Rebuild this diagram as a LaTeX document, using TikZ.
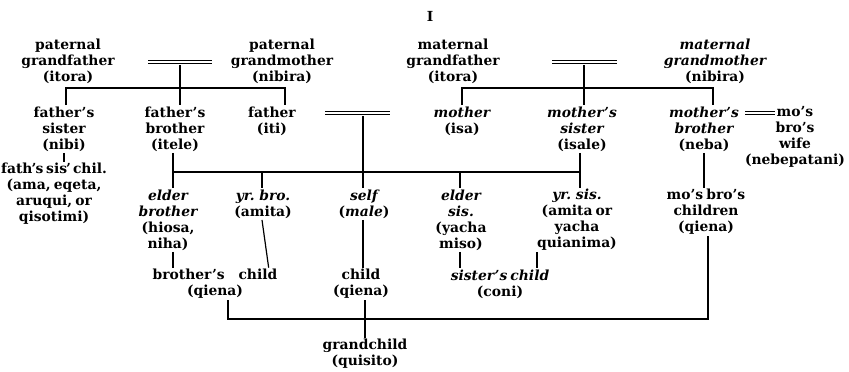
\documentclass[tikz,border=0pt]{standalone}
\usepackage{fontspec}
\setmainfont{DejaVu Serif}[WordSpace=0.65]
\newcommand{\tightap}{\kern-0.07em'\kern-0.05em}
\begin{document}
\begin{tikzpicture}[x=0.75pt,y=-0.75pt,
  kin/.style={align=center, inner sep=1pt, font=\fontsize{10.4}{12}\selectfont\bfseries},
  link/.style={line width=0.9pt},
  marriage/.style={double, line width=1.05pt, double distance=0.9pt},
  marriagethin/.style={double, line width=0.8pt, double distance=1.1pt}]
\useasboundingbox (0,0) rectangle (849,371);

% title
\node[kin] (title) at (430,16) {I};

% generation 1
\node[kin] (pgf) at (68,61) {paternal\\grandfather\\(itora)};
\node[kin] (pgm) at (282,61) {paternal\\grandmother\\(nibira)};
\node[kin] (mgf) at (453,61) {maternal\\grandfather\\(itora)};
\node[kin] (mgm) at (715,61) {\itshape maternal\\\itshape grandmother\\(nibira)};

% generation 2
\node[kin] (fsis) at (64,129) {father's\\sister\\(nibi)};
\node[kin] (fbro) at (175,129) {father's\\brother\\(itele)};
\node[kin] (father) at (272,121) {father\\(iti)};
\node[kin] (mother) at (462,121) {\itshape mother\\(isa)};
\node[kin] (msis) at (582,129) {\itshape mother's\\\itshape sister\\(isale)};
\node[kin] (mbro) at (704,129) {\itshape mother's\\\itshape brother\\(neba)};
\node[kin] (mbw) at (795,137) {mo's\\bro's\\wife\\(nebepatani)};

% generation 3
\node[kin] (fsc) at (54,194) {\spaceskip=0.2em plus 0.05em fath\tightap s sis\tightap{} chil.\\(ama, eqeta,\\aruqui, or\\qisotimi)};
\node[kin] (ebro) at (168,220) {\itshape elder\\\itshape brother\\(hiosa,\\niha)};
\node[kin] (ybro) at (263,204) {\itshape yr. bro.\\(amita)};
\node[kin] (self) at (364,204) {\itshape self\\(\textit{male})};
\node[kin] (esis) at (461,220) {\itshape elder\\\itshape sis.\\(yacha\\miso)};
\node[kin] (ysis) at (577,220) {\itshape yr. sis.\\(amita or\\yacha\\quianima)};
\node[kin] (mbc) at (706,212) {mo's bro's\\children\\(qiena)};

% generation 4
\node[kin] (bchild) at (215,284) {brother's\quad child\\(qiena)};
\node[kin] (child) at (361,284) {child\\(qiena)};
\node[kin] (schild) at (500,284) {\itshape sister's child\\(coni)};

% generation 5
\node[kin] (gchild) at (365,354) {grandchild\\(quisito)};

% junction coordinates
\coordinate (pmL) at (148,62);
\coordinate (pmR) at (212,62);
\coordinate (pmC) at (180,65);
\coordinate (s1L) at (66,88);
\coordinate (s1R) at (285,88);
\coordinate (mmL) at (552,62);
\coordinate (mmR) at (617,62);
\coordinate (mmC) at (584,65);
\coordinate (s1b) at (713,88);
\coordinate (ppL) at (325,113);
\coordinate (ppR) at (390,113);
\coordinate (ppC) at (363,116);
\coordinate (mwL) at (745,113);
\coordinate (mwR) at (775,113);
\coordinate (j1) at (173,172);
\coordinate (j2) at (580,172);
\coordinate (j3) at (262,172);
\coordinate (j4) at (460,172);
\coordinate (ys) at (537,260);
\coordinate (g1) at (228,319);
\coordinate (g2) at (708,319);
\coordinate (gc) at (365,319);

% marriages
\draw[marriage] (pmL) -- (pmR);
\draw[marriage] (mmL) -- (mmR);
\draw[marriage] (ppL) -- (ppR);
\draw[marriagethin] (mwL) -- (mwR);

% generation 1 -> 2
\draw[link] (pmC) -- (pmC |- fbro.north);
\draw[link] (fsis.north -| s1L) -- (s1L) -- (s1R) -- (s1R |- father.north);
\draw[link] (mmC) -- (mmC |- msis.north);
\draw[link] (mother.north) -- (mother.north |- s1b) -- (s1b) -- (s1b |- mbro.north);

% generation 2 -> 3
\draw[link] (j1 |- fbro.south) -- (j1 |- ebro.north);
\draw[link] (j1) -- (j2);
\draw[link] (j2 |- msis.south) -- (j2 |- ysis.north);
\draw[link] (j3) -- (j3 |- ybro.north);
\draw[link] (j4) -- (j4 |- esis.north);
\draw[link] (ppC) -- (ppC |- self.north);
\draw[link] (fsis.south) -- (fsis.south |- fsc.north);
\draw[link] (mbro.south) -- (mbro.south |- mbc.north);

% generation 3 -> 4
\draw[link] (j1 |- ebro.south) -- (j1 |- bchild.north);
\draw[link] (j3 |- ybro.south) -- ([xshift=5]j3 |- bchild.north);
\draw[link] (ppC |- self.south) -- (ppC |- child.north);
\draw[link] (j4 |- esis.south) -- (j4 |- schild.north);
\draw[link] (ys |- ysis.south) -- (ys |- schild.north);

% generation 4 -> 5
\draw[link] (g1 |- bchild.south) -- (g1) -- (g2) -- (g2 |- mbc.south);
\draw[link] (gc |- child.south) -- (gc |- gchild.north);
\end{tikzpicture}
\end{document}
